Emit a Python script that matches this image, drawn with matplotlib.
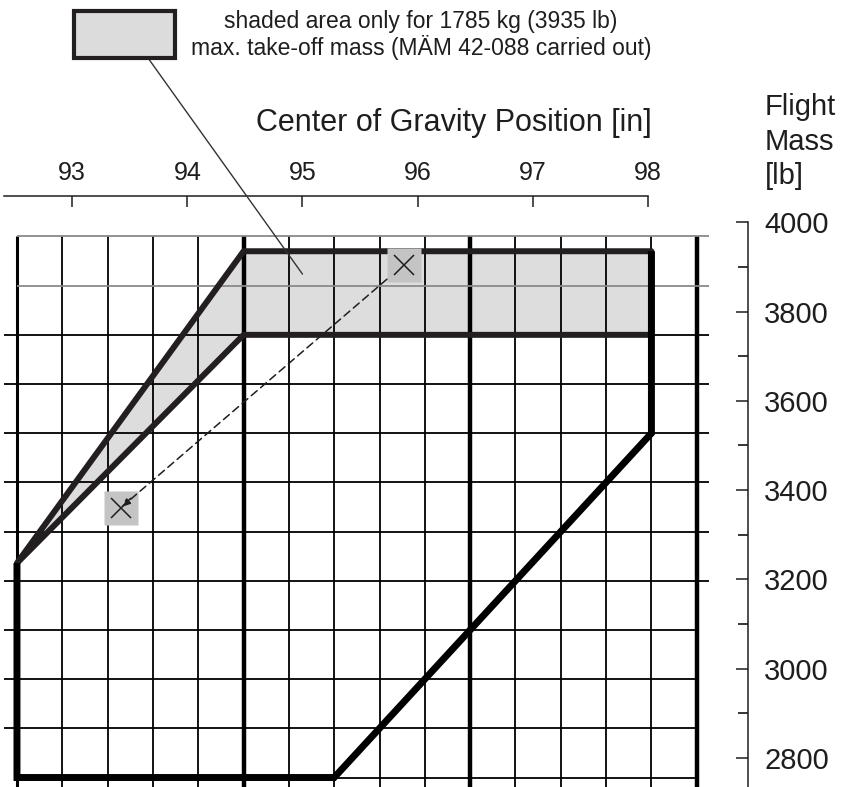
import numpy as np
import matplotlib.pyplot as plt
from matplotlib.patches import Rectangle, Polygon
from matplotlib.ticker import MultipleLocator

plt.rcParams['font.family'] = ['Liberation Sans', 'DejaVu Sans']

LB_PER_KG = 2.20462
CM_PER_IN = 2.54
INK = '#1e1e1e'

# metric grid behind the chart
grid_cm = np.arange(235, 251)
grid_kg = np.arange(1250, 1801, 50)

# flight envelope (cg in m, mass in kg)
env_cg_m = [2.35, 2.35, 2.42, 2.49, 2.49]
env_kg = [1468, 1250, 1250, 1600, 1785]

# extra area for 1785 kg max. take-off mass
ext_cg_m = [2.35, 2.40, 2.49, 2.49, 2.40]
ext_kg = [1468, 1785, 1785, 1700, 1700]

# example loading: take-off -> landing (in, lb)
load_cg_in = [95.88, 93.42]
load_lb = [3905, 3360]

x_ticks = [93, 94, 95, 96, 97, 98]
y_ticks = [2800, 3000, 3200, 3400, 3600, 3800, 4000]


def m_to_in(m):
    return np.asarray(m) * 100 / CM_PER_IN


def kg_to_lb(kg):
    return np.asarray(kg) * LB_PER_KG


fig = plt.figure(figsize=(8.44, 7.87), dpi=100)
ax = fig.add_axes([4 / 844, 0, 743.6 / 844, 591.3 / 787])
ax.set_xlim(92.407, 98.867)
ax.set_ylim(2734.5, 4059.7)
y0 = ax.get_ylim()[0]

# axes: cg on top, mass on the right
for s in ['left', 'bottom']:
    ax.spines[s].set_visible(False)
ax.spines['top'].set_bounds(ax.get_xlim()[0], 98)
ax.spines['right'].set_bounds(y0, 4000)
for s in ['top', 'right']:
    ax.spines[s].set_linewidth(1.1)
    ax.spines[s].set_color(INK)
ax.xaxis.tick_top()
ax.yaxis.tick_right()
ax.set_xticks(x_ticks)
ax.set_yticks(y_ticks)
ax.yaxis.set_minor_locator(MultipleLocator(100))
ax.tick_params(axis='x', direction='in', length=8, width=1.1, pad=8,
               labelsize=18, colors=INK)
ax.tick_params(axis='y', which='major', direction='in', length=8.3, width=1.1,
               pad=12, labelsize=21, colors=INK)
ax.tick_params(axis='y', which='minor', direction='in', length=7.3, width=1.1)

ax.xaxis.set_label_position('top')
ax.set_xlabel('Center of Gravity Position [in]', fontsize=22, color=INK,
              va='center')
ax.xaxis.set_label_coords(0.6046, 1.1229)
ax.yaxis.set_label_position('right')
ax.set_ylabel('Flight\nMass\n[lb]', fontsize=21, color=INK, rotation=0,
              ha='left', va='top', multialignment='left', linespacing=1.3)
ax.yaxis.set_label_coords(1.0234, 1.1737)

# shaded extension, fill first so the grid shows through
ext_x = m_to_in(ext_cg_m)
ext_y = kg_to_lb(ext_kg)
ax.fill(ext_x, ext_y, color='#dddddd', lw=0, zorder=1)

# vertical grid every cm, heavier every 5 cm
gx = grid_cm / CM_PER_IN
gw = np.where(grid_cm % 5 == 0, 3.2, 1.3)
gw[grid_cm == 235] = 2.2
ax.vlines(gx, y0, kg_to_lb(1800), colors='black', linewidths=gw, zorder=2)

# horizontal grid every 50 kg
gy = kg_to_lb(grid_kg)
left = np.where(np.isin(grid_kg, [1250, 1750, 1800]), 235, 234.72) / CM_PER_IN
right = np.where(grid_kg >= 1450, 250.28, 250) / CM_PER_IN
right[grid_kg == 1250] = 250 / CM_PER_IN
hcol = ['#8a8a8a' if k >= 1750 else 'black' for k in grid_kg]
ax.hlines(gy, left, right, colors=hcol, linewidths=1.3, zorder=2)

# outline of shaded area
ax.add_patch(Polygon(np.column_stack([ext_x, ext_y]), closed=True, fill=False,
                     edgecolor='#231f20', lw=4.3, joinstyle='round', zorder=3))

# main envelope
ax.plot(m_to_in(env_cg_m), kg_to_lb(env_kg), color='black', lw=5,
        solid_joinstyle='miter', solid_capstyle='butt', zorder=4)

# loading points
ax.plot(load_cg_in, load_lb, ls='none', marker='s', ms=25, mfc='#c4c4c4',
        mec='none', zorder=5)
ax.plot(load_cg_in, load_lb, ls='none', marker='x', ms=14, mew=1.1,
        color=INK, zorder=6)
ax.annotate('', xy=(load_cg_in[1], load_lb[1]),
            xytext=(load_cg_in[0], load_lb[0]),
            arrowprops=dict(arrowstyle='-|>,head_length=0.5,head_width=0.2',
                            ls=(0, (5, 3)), lw=1.1, color=INK,
                            shrinkA=16, shrinkB=1),
            zorder=6)

# key box for the shaded area with its leader line
ax.add_patch(Rectangle((93.012, 4369), 0.878, 104.7, facecolor='#dcdcdc',
                       edgecolor='#231f20', lw=3, clip_on=False, zorder=5))
ax.annotate('', xy=(95.0, 3884), xytext=(93.67, 4364),
            arrowprops=dict(arrowstyle='-', color='#333333', lw=1,
                            shrinkA=0, shrinkB=0),
            annotation_clip=False, zorder=4)
ax.text(96.03, 4419, 'shaded area only for 1785 kg (3935 lb)\n'
        'max. take-off mass (MÄM 42-088 carried out)',
        ha='center', va='center', multialignment='center', fontsize=16.5,
        linespacing=1.1, color=INK, clip_on=False)

fig.savefig('out.png', dpi=100)
